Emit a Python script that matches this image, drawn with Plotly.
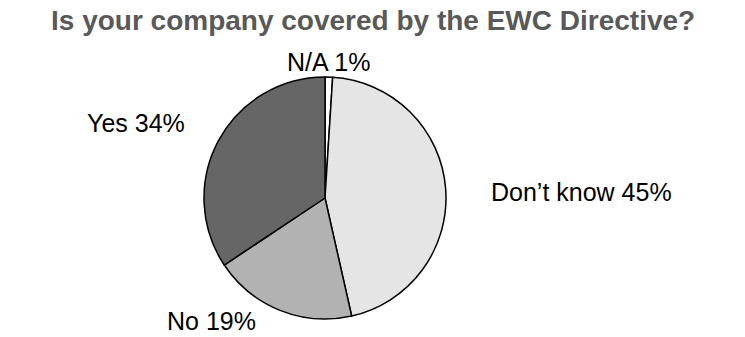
import plotly.graph_objects as go

categories = ["N/A", "Don't know", "No", "Yes"]
values = [1, 45, 19, 34]
colors = ["#ffffff", "#e5e5e5", "#b2b2b2", "#666666"]
title_text = "Is your company covered by the EWC Directive?"

W, H = 745, 337
cx, cy, r = 325, 198, 121

fig = go.Figure()
fig.add_trace(go.Pie(
    labels=categories,
    values=values,
    sort=False,
    direction="clockwise",
    rotation=0,
    marker=dict(colors=colors, line=dict(color="#000000", width=1.5)),
    textinfo="none",
    hoverinfo="label+percent",
    showlegend=False,
    domain=dict(x=[(cx - r) / W, (cx + r) / W], y=[(H - cy - r) / H, (H - cy + r) / H]),
))

label_pos = {
    "N/A": (328, 62),
    "Don't know": (581, 192),
    "No": (211, 321),
    "Yes": (136, 123),
}
display = {"N/A": "N/A", "Don't know": "Don’t know", "No": "No", "Yes": "Yes"}
annotations = []
for cat, val in zip(categories, values):
    x, y = label_pos[cat]
    annotations.append(dict(
        text=f"{display[cat]} {val}%",
        x=x / W, y=1 - y / H, xref="paper", yref="paper",
        xanchor="center", yanchor="middle", showarrow=False,
        font=dict(family="Liberation Sans, Arial, sans-serif", size=25, color="#000000"),
    ))
annotations.append(dict(
    text=f"<b>{title_text}</b>",
    x=373 / W, y=1 - 20 / H, xref="paper", yref="paper",
    xanchor="center", yanchor="middle", showarrow=False,
    font=dict(family="Liberation Sans, Arial, sans-serif", size=28, color="#595959"),
))

fig.update_layout(
    width=W, height=H,
    margin=dict(l=0, r=0, t=0, b=0),
    paper_bgcolor="#ffffff",
    plot_bgcolor="#ffffff",
    annotations=annotations,
)

fig.write_html("out.html")
